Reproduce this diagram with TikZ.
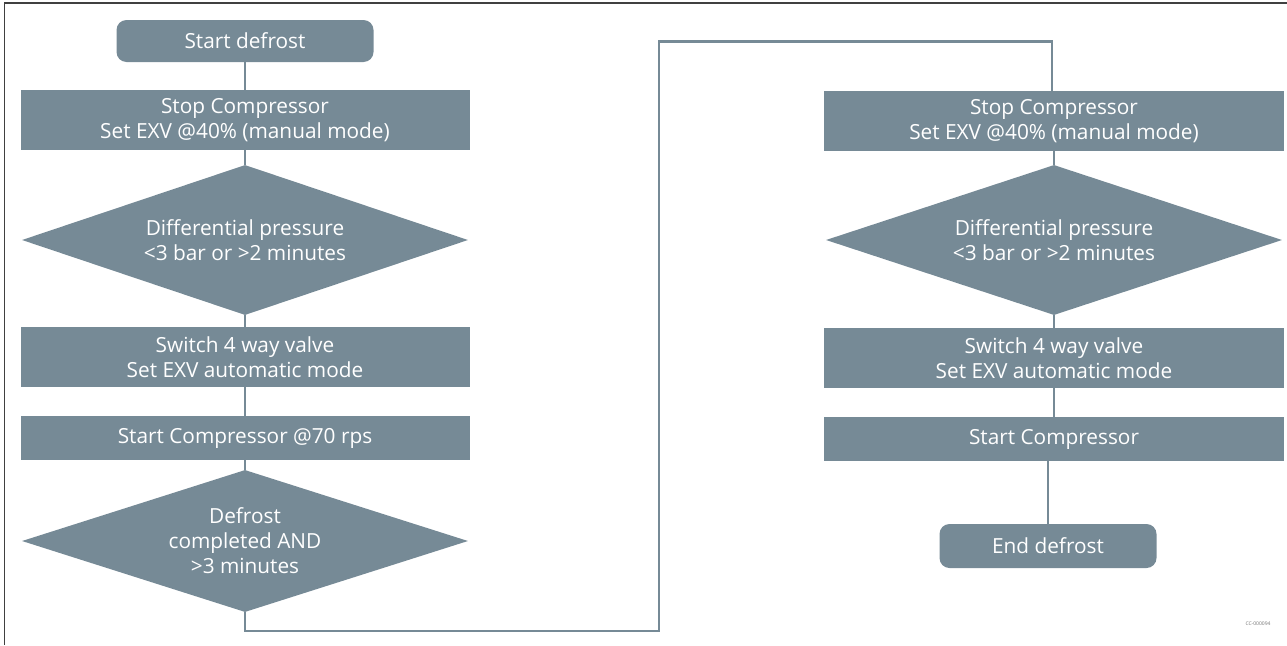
\documentclass[tikz,border=0pt]{standalone}
\usepackage{fontspec}
\setmainfont{Open Sans}
\usetikzlibrary{shapes.geometric}
\definecolor{slate}{RGB}{118,138,150}
\begin{document}
\begin{tikzpicture}[x=1pt,y=-1pt,
  every node/.style={font=\fontsize{20.8}{25}\selectfont, text=white, align=center, inner sep=0pt},
  procbox/.style={fill=slate, minimum width=449pt, minimum height=60pt},
  shortbox/.style={fill=slate, minimum width=449pt, minimum height=44pt},
  termbox/.style={fill=slate, rounded corners=10pt, minimum width=257pt, minimum height=42pt},
  decbox/.style={diamond, fill=slate, aspect=3, minimum width=446pt, minimum height=150pt},
  link/.style={draw=slate, line width=2.6pt}]
\useasboundingbox (0,0) rectangle (1287,645);
\draw[line width=1.6pt, black!75] (4.5,645) -- (4.5,3) -- (1287,3);
% left column
\node[termbox] (start) at (245,41) {Start defrost};
\node[procbox] (b1) at (245,120) {Stop Compressor\\Set EXV @40\% (manual mode)};
\node[decbox] (d1) at (245,240) {Differential pressure\\<3 bar or >2 minutes};
\node[procbox] (b2) at (245,357) {Switch 4 way valve\\Set EXV automatic mode};
\node[shortbox] (b3) at (245,438) {Start Compressor @70 rps};
\node[decbox, minimum height=142pt] (d2) at (245,541) {Defrost\\completed AND\\>3 minutes};
% right column
\node[procbox, minimum width=460pt] (b4) at (1054,121) {Stop Compressor\\Set EXV @40\% (manual mode)};
\node[decbox, minimum width=456pt] (d3) at (1054,240) {Differential pressure\\<3 bar or >2 minutes};
\node[procbox, minimum width=460pt] (b5) at (1054,358) {Switch 4 way valve\\Set EXV automatic mode};
\node[shortbox, minimum width=460pt] (b6) at (1054,439) {Start Compressor};
\node[termbox, minimum width=217pt, minimum height=44pt] (end) at (1048,546) {End defrost};
\node[font=\fontsize{5}{6}\selectfont, text=black!55] (code) at (1258,624) {CC-000094};
% connectors
\coordinate (c1) at (659,631);
\coordinate (c2) at (659,41.5);
\draw[link] (start) -- (b1);
\draw[link] (b1) -- (d1);
\draw[link] (d1) -- (b2);
\draw[link] (b2) -- (b3);
\draw[link] (b3) -- (d2);
\draw[link] (d2.south) |- (c1) -- (c2) -| ([xshift=-2pt]b4.north);
\draw[link] (b4) -- (d3);
\draw[link] (d3) -- (b5);
\draw[link] (b5) -- (b6);
\draw[link] (b6.south -| end.north) -- (end.north);
\end{tikzpicture}
\end{document}
